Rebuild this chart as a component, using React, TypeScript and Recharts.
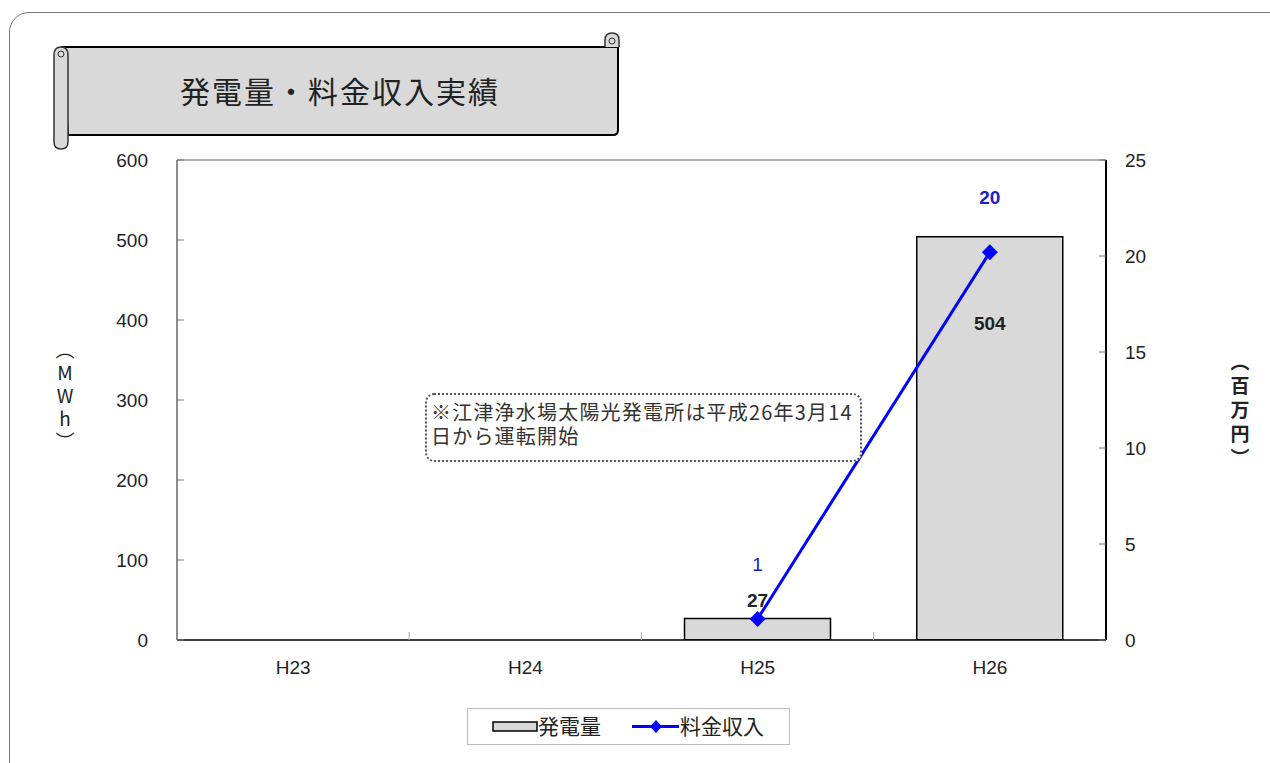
import React from "react";
import {
  ComposedChart,
  Bar,
  Line,
  XAxis,
  YAxis,
  ReferenceLine,
  LabelList,
} from "recharts";

const categories = ["H23", "H24", "H25", "H26"];
const generation: (number | null)[] = [null, null, 27, 504];
const revenue: (number | null)[] = [null, null, 1.1, 20.2];
const revenueLabels: (string | null)[] = [null, null, "1", "20"];
const leftTicks = [0, 100, 200, 300, 400, 500, 600];
const rightTicks = [0, 5, 10, 15, 20, 25];

const data = categories.map((c, i) => ({
  cat: c,
  gen: generation[i],
  rev: revenue[i],
  revLabel: revenueLabels[i],
}));

const NUM_FONT = "'Liberation Sans', Arial, sans-serif";
const JP_FONT = "'Noto Sans CJK JP', 'Noto Sans', sans-serif";

const LeftTick = (props: any) => {
  const { x, y, payload } = props;
  return (
    <g>
      <line x1={x + 29} x2={x + 36} y1={y} y2={y} stroke="#777" strokeWidth={1} />
      <text x={x} y={y} dy={7} textAnchor="end" fontFamily={NUM_FONT} fontSize={19} fill="#222">
        {payload.value}
      </text>
    </g>
  );
};

const RightTick = (props: any) => {
  const { x, y, payload } = props;
  return (
    <g>
      <line x1={x - 26} x2={x - 19} y1={y} y2={y} stroke="#777" strokeWidth={1} />
      <text x={x} y={y} dy={7} textAnchor="start" fontFamily={NUM_FONT} fontSize={19} fill="#222">
        {payload.value}
      </text>
    </g>
  );
};

const BottomTick = (props: any) => {
  const { x, y, payload, index } = props;
  return (
    <g>
      {index < 3 ? (
        <line x1={x + 116} x2={x + 116} y1={y - 8} y2={y} stroke="#aaa" strokeWidth={1} />
      ) : null}
      <text x={x} y={y + 34} textAnchor="middle" fontFamily={NUM_FONT} fontSize={19} fill="#222">
        {payload.value}
      </text>
    </g>
  );
};

const BarLabel = (props: any) => {
  const { x, y, width, value } = props;
  if (value == null) return null;
  const cx = x + width / 2;
  const inside = value > 100;
  return (
    <text
      x={cx}
      y={inside ? y + 93 : y - 11}
      textAnchor="middle"
      fontFamily={NUM_FONT}
      fontWeight="bold"
      fontSize={19}
      fill="#222"
    >
      {value}
    </text>
  );
};

const LineLabel = (props: any) => {
  const { x, y, value } = props;
  if (value == null || y == null) return null;
  const big = Number(value) >= 10;
  return (
    <text
      x={x}
      y={y - 48}
      textAnchor="middle"
      fontFamily={NUM_FONT}
      fontWeight={big ? "bold" : "normal"}
      fontSize={19}
      fill="#2020c8"
    >
      {value}
    </text>
  );
};

const Diamond = (props: any) => {
  const { cx, cy, index } = props;
  if (cx == null || cy == null) return <g key={`d${index}`} />;
  const r = 8;
  return (
    <path
      key={`d${index}`}
      d={`M${cx},${cy - r}L${cx + r},${cy}L${cx},${cy + r}L${cx - r},${cy}Z`}
      fill="#0000ff"
    />
  );
};

const LeftAxisLabel = () => (
  <text
    x={65}
    y={340}
    fontFamily={JP_FONT}
    fontSize={19}
    fill="#222"
    style={{ writingMode: "vertical-rl", textOrientation: "upright" } as any}
    letterSpacing={4}
  >
    （MWh）
  </text>
);

const RightAxisLabel = () => (
  <text
    x={1240}
    y={352}
    fontFamily={JP_FONT}
    fontWeight="bold"
    fontSize={19}
    fill="#222"
    style={{ writingMode: "vertical-rl" } as any}
    letterSpacing={5}
  >
    （百万円）
  </text>
);

const TitleBanner = () => (
  <svg width={640} height={160} style={{ position: "absolute", left: 0, top: 0 }}>
    <path
      d="M62,47 L611,47 L618,47 L618,130 Q618,135 613,135 L68,135 Z"
      fill="#d9d9d9"
      stroke="#000"
      strokeWidth={2}
    />
    <path
      d="M605,47 L605,40 Q605,33 612,33 Q619,33 619,40 L619,47"
      fill="#d9d9d9"
      stroke="#333"
      strokeWidth={1.5}
    />
    <circle cx={612} cy={41} r={3} fill="none" stroke="#333" strokeWidth={1} />
    <path
      d="M54,55 Q54,47 61,47 Q68,47 68,55 L68,142 Q68,149 61,149 Q54,149 54,142 Z"
      fill="#d9d9d9"
      stroke="#333"
      strokeWidth={1.5}
    />
    <circle cx={61} cy={54} r={3} fill="none" stroke="#333" strokeWidth={1} />
    <text
      x={340}
      y={103}
      textAnchor="middle"
      fontFamily={JP_FONT}
      fontSize={30}
      letterSpacing={2}
      fill="#222"
    >
      発電量・料金収入実績
    </text>
  </svg>
);

export default function App() {
  return (
    <div
      style={{
        position: "absolute",
        left: 0,
        top: 0,
        width: 1270,
        height: 763,
        overflow: "hidden",
        background: "#fff",
      }}
    >
      <div
        style={{
          position: "absolute",
          left: 9,
          top: 12,
          width: 1290,
          height: 820,
          border: "1.5px solid #777",
          borderRadius: 20,
        }}
      />
      <TitleBanner />
      <div style={{ position: "absolute", left: 0, top: 0 }}>
        <ComposedChart
          width={1270}
          height={763}
          data={data}
          margin={{ top: 160, right: 0, bottom: 83, left: 0 }}
        >
          <XAxis
            dataKey="cat"
            height={40}
            tickLine={false}
            tickSize={0}
            tickMargin={0}
            axisLine={{ stroke: "#000", strokeWidth: 1.5 }}
            tick={<BottomTick />}
            interval={0}
          />
          <YAxis
            yAxisId="left"
            width={177}
            domain={[0, 600]}
            ticks={leftTicks}
            tickLine={false}
            tickSize={0}
            tickMargin={29}
            axisLine={{ stroke: "#666", strokeWidth: 1.5 }}
            tick={<LeftTick />}
            label={<LeftAxisLabel />}
            allowDataOverflow
          />
          <YAxis
            yAxisId="right"
            orientation="right"
            width={164}
            domain={[0, 25]}
            ticks={rightTicks}
            tickLine={false}
            tickSize={0}
            tickMargin={19}
            axisLine={{ stroke: "#000", strokeWidth: 2 }}
            tick={<RightTick />}
            label={<RightAxisLabel />}
            allowDataOverflow
          />
          <ReferenceLine yAxisId="left" y={600} stroke="#999" strokeWidth={1.5} />
          <Bar
            yAxisId="left"
            dataKey="gen"
            barSize={146}
            fill="#d9d9d9"
            stroke="#000"
            strokeWidth={1.5}
            isAnimationActive={false}
          >
            <LabelList dataKey="gen" content={<BarLabel />} />
          </Bar>
          <Line
            yAxisId="right"
            dataKey="rev"
            type="linear"
            stroke="#0000ff"
            strokeWidth={3}
            dot={<Diamond />}
            activeDot={false}
            isAnimationActive={false}
          >
            <LabelList dataKey="revLabel" content={<LineLabel />} />
          </Line>
        </ComposedChart>
      </div>
      <div
        style={{
          position: "absolute",
          left: 425,
          top: 393,
          width: 437,
          height: 69,
          boxSizing: "border-box",
          border: "2px dotted #555",
          borderRadius: 9,
          padding: "5px 0 0 4px",
          fontFamily: JP_FONT,
          fontSize: 20,
          lineHeight: "24px",
          color: "#333",
          background: "#fff",
          letterSpacing: 1.2,
          whiteSpace: "nowrap",
        }}
      >
        ※江津浄水場太陽光発電所は平成26年3月14
        <br />
        日から運転開始
      </div>
      <div
        style={{
          position: "absolute",
          left: 467,
          top: 708,
          width: 323,
          height: 37,
          boxSizing: "border-box",
          border: "1.5px solid #bbb",
          background: "#fff",
        }}
      >
        <svg width={320} height={34} style={{ position: "absolute", left: 0, top: 0 }}>
          <rect x={25} y={13} width={44} height={9} fill="#d9d9d9" stroke="#000" strokeWidth={1.5} />
          <text x={70} y={25} fontFamily={JP_FONT} fontSize={21} fill="#222">
            発電量
          </text>
          <line x1={164} x2={211} y1={17.5} y2={17.5} stroke="#0000ff" strokeWidth={3} />
          <path d="M188,11L194,17.5L188,24L182,17.5Z" fill="#0000ff" />
          <text x={212} y={25} fontFamily={JP_FONT} fontSize={21} fill="#222">
            料金収入
          </text>
        </svg>
      </div>
    </div>
  );
}
